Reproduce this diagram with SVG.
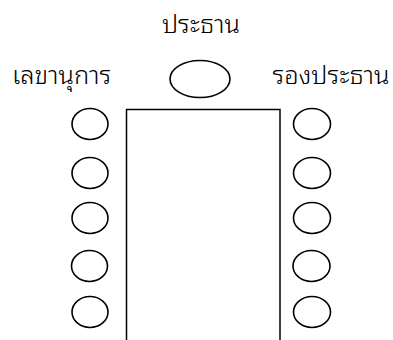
<svg xmlns="http://www.w3.org/2000/svg" width="393" height="340" viewBox="0 0 393 340">
<style>
.seat{fill:#fff;stroke:#000;stroke-width:1.6}
.tbl{fill:#fff;stroke:#000;stroke-width:1.5}
.lbl{font-family:"Noto Sans Thai Looped","Loma","Garuda","Tahoma","Leelawadee UI","Noto Sans",sans-serif;font-size:25.5px;font-weight:300;fill:#000}
</style>
<rect width="393" height="340" fill="#fff"/>
<g id="table"><path class="tbl" d="M126.5,345 V109.5 H280 V345"/></g>
<g id="chair-president"><ellipse class="seat" cx="200" cy="79" rx="30" ry="18.5"/></g>
<g id="left-seats">
<ellipse class="seat" cx="90" cy="124" rx="18" ry="15.5"/>
<ellipse class="seat" cx="90" cy="173" rx="18" ry="15.5"/>
<ellipse class="seat" cx="90" cy="218" rx="18" ry="15.5"/>
<ellipse class="seat" cx="89.5" cy="266" rx="18" ry="15.5"/>
<ellipse class="seat" cx="90" cy="312" rx="18" ry="15.5"/>
</g>
<g id="right-seats">
<ellipse class="seat" cx="312" cy="124" rx="18.5" ry="15.5"/>
<ellipse class="seat" cx="312" cy="173" rx="18.5" ry="15.5"/>
<ellipse class="seat" cx="312" cy="218" rx="18.5" ry="15.5"/>
<ellipse class="seat" cx="311.5" cy="266" rx="18.5" ry="15.5"/>
<ellipse class="seat" cx="312" cy="312" rx="18.5" ry="15.5"/>
</g>
<g id="labels">
<text class="lbl" x="201" y="33" text-anchor="middle">ประธาน</text>
<text class="lbl" x="61.5" y="83.5" text-anchor="middle">เลขานุการ</text>
<text class="lbl" x="331" y="83.5" text-anchor="middle">รองประธาน</text>
</g>
</svg>
